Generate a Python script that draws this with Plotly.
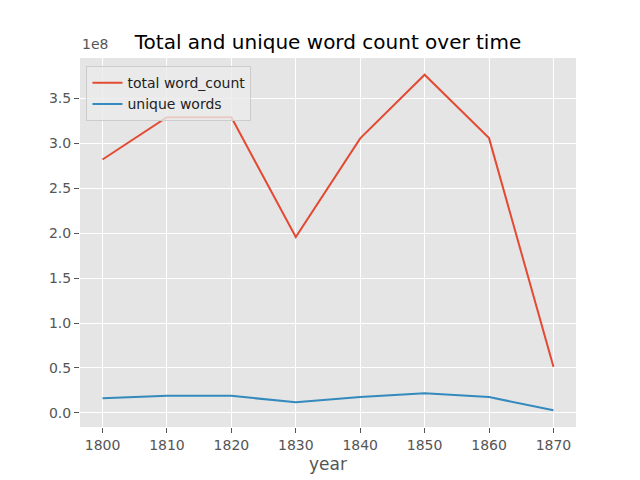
import plotly.graph_objects as go

years = [1800, 1810, 1820, 1830, 1840, 1850, 1860, 1870]
total_word_count = [2.82e8, 3.29e8, 3.29e8, 1.958e8, 3.055e8, 3.763e8, 3.058e8, 0.514e8]
unique_words = [0.163e8, 0.19e8, 0.19e8, 0.118e8, 0.176e8, 0.219e8, 0.176e8, 0.03e8]
y_tick_vals = [0.0, 0.5e8, 1.0e8, 1.5e8, 2.0e8, 2.5e8, 3.0e8, 3.5e8]
y_tick_text = ["0.0", "0.5", "1.0", "1.5", "2.0", "2.5", "3.0", "3.5"]

FONT = "DejaVu Sans"
GRAY = "#555555"

fig = go.Figure()
fig.add_trace(go.Scatter(x=years, y=total_word_count, mode="lines", name="total word_count",
                         line=dict(color="#E24A33", width=2)))
fig.add_trace(go.Scatter(x=years, y=unique_words, mode="lines", name="unique words",
                         line=dict(color="#348ABD", width=2)))

ymin = min(unique_words); ymax = max(total_word_count)
pad = (ymax - ymin) * 0.05
xpad = (years[-1] - years[0]) * 0.05

fig.update_layout(
    width=640, height=480,
    margin=dict(l=72, r=72, t=49.6, b=60.8),
    paper_bgcolor="white", plot_bgcolor="#E5E5E5",
    font=dict(family=FONT, size=14, color=GRAY),
    title=dict(text="Total and unique word count over time", x=0.5, xanchor="center",
               xref="paper", y=1 - 34/480, yanchor="middle", yref="container",
               font=dict(family=FONT, size=20, color="black")),
    showlegend=True,
    legend=dict(x=0.013, y=0.978, xanchor="left", yanchor="top",
                bgcolor="rgba(235,235,235,0.8)", bordercolor="#cccccc", borderwidth=1,
                font=dict(family=FONT, size=14, color="#222222"), tracegroupgap=0,
                itemwidth=30),
    xaxis=dict(range=[years[0] - xpad, years[-1] + xpad], tickvals=years,
               showgrid=True, gridcolor="white", gridwidth=1, zeroline=False,
               ticks="outside", ticklen=5, tickcolor=GRAY, tickwidth=1,
               tickfont=dict(family=FONT, size=14, color=GRAY),
               title=dict(text="year", font=dict(family=FONT, size=17, color=GRAY), standoff=6),
               showline=False),
    yaxis=dict(range=[ymin - pad, ymax + pad], tickvals=y_tick_vals, ticktext=y_tick_text,
               showgrid=True, gridcolor="white", gridwidth=1, zeroline=False,
               ticks="outside", ticklen=5, tickcolor=GRAY, tickwidth=1,
               tickfont=dict(family=FONT, size=14, color=GRAY), showline=False),
    annotations=[dict(text="1e8", xref="paper", yref="paper", x=0, y=1.01,
                      xanchor="left", yanchor="bottom", showarrow=False,
                      font=dict(family=FONT, size=14, color=GRAY))],
)

fig.write_html("out.html")
